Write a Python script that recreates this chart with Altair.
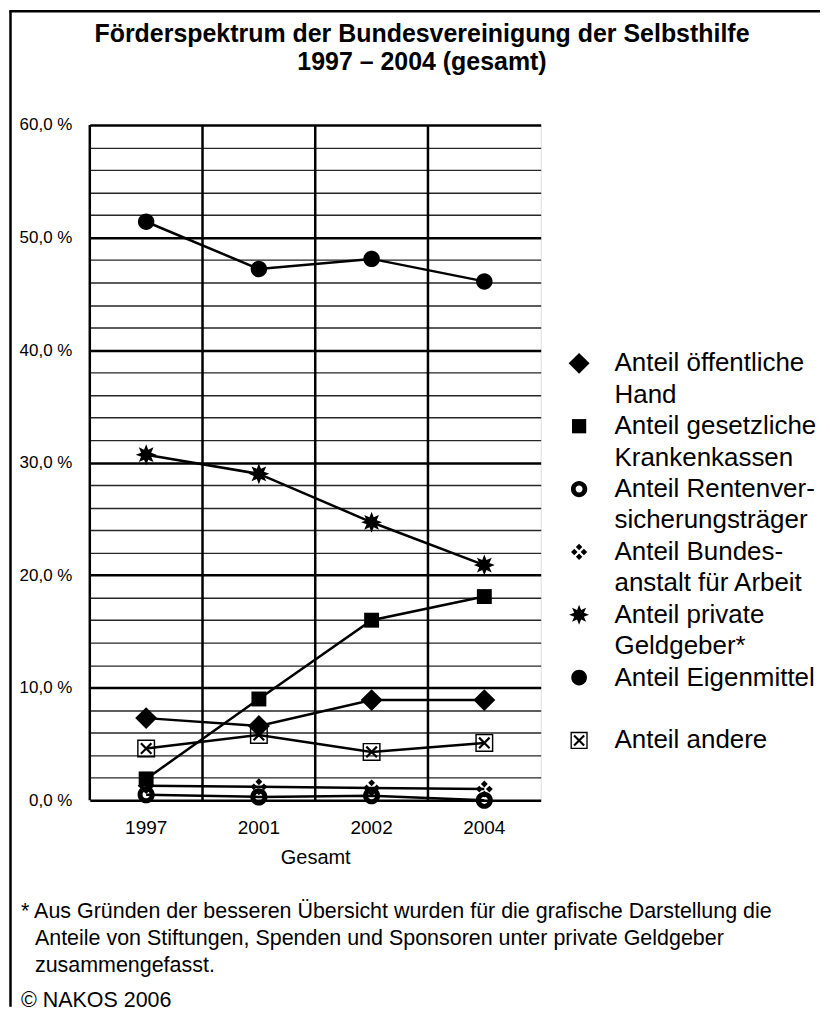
import math
import altair as alt
import pandas as pd

# ---------------- data ----------------
years = ["1997", "2001", "2002", "2004"]

series_names = [
    "Anteil öffentliche|Hand",
    "Anteil gesetzliche|Krankenkassen",
    "Anteil Rentenver-|sicherungsträger",
    "Anteil Bundes-|anstalt für Arbeit",
    "Anteil private|Geldgeber*",
    "Anteil Eigenmittel|",
    "Anteil andere",
]

oeffentliche_hand = [7.3, 6.6, 8.9, 8.9]
krankenkassen = [1.9, 9.0, 16.0, 18.1]
rentenversicherung = [0.5, 0.3, 0.4, 0.0]
bundesanstalt = [1.3, 1.2, 1.1, 1.0]
private_geldgeber = [30.7, 29.0, 24.7, 20.9]
eigenmittel = [51.4, 47.2, 48.1, 46.1]
andere = [4.6, 5.8, 4.3, 5.1]

series_values = [oeffentliche_hand, krankenkassen, rentenversicherung,
                 bundesanstalt, private_geldgeber, eigenmittel, andere]

title_lines = ["Förderspektrum der Bundesvereinigung der Selbsthilfe",
               "1997 – 2004 (gesamt)"]
footnote_first = "* Aus Gründen der besseren Übersicht wurden für die grafische Darstellung die"
footnote_rest = ["Anteile von Stiftungen, Spenden und Sponsoren unter private Geldgeber",
                 "zusammengefasst."]
copyright_text = "© NAKOS 2006"

rows = []
for name, vals in zip(series_names, series_values):
    for yr, v in zip(years, vals):
        rows.append({"Reihe": name, "Jahr": yr, "Anteil": v})
df = pd.DataFrame(rows)
df_years = pd.DataFrame({"Jahr": years})

# ---------------- marker shapes (unit coords) ----------------
def poly(pts, sign=1):
    area = sum(x1 * y2 - x2 * y1 for (x1, y1), (x2, y2) in zip(pts, pts[1:] + pts[:1]))
    if (area > 0) != (sign > 0):
        pts = pts[::-1]
    return "M" + "L".join(f"{x:.3f},{y:.3f}" for x, y in pts) + "Z"

def sq(s, sign=1, cx=0.0, cy=0.0):
    return poly([(cx - s, cy - s), (cx + s, cy - s), (cx + s, cy + s), (cx - s, cy + s)], sign)

def dia(r, cx=0.0, cy=0.0):
    return poly([(cx, cy - r), (cx + r, cy), (cx, cy + r), (cx - r, cy)], 1)

def circ(r, sweep=1):
    return (f"M{r},0A{r},{r} 0 1,{sweep} {-r},0A{r},{r} 0 1,{sweep} {r},0Z")

shape_diamond = dia(1.0)
shape_square = sq(0.68)
shape_ring = circ(0.78, 1) + circ(0.33, 0)
shape_cluster = "".join(dia(0.31, cx, cy) for cx, cy in [(0, -0.46), (0.46, 0), (0, 0.46), (-0.46, 0)])
star_pts = []
for k in range(16):
    r = 0.95 if k % 2 == 0 else 0.5
    t = k * math.pi / 8
    star_pts.append((r * math.sin(t), -r * math.cos(t)))
shape_star = poly(star_pts)
shape_circle = circ(0.75, 1)
d, a = 0.48, 0.07
xa = [(-d + a, -d - a), (d + a, d - a), (d - a, d + a), (-d - a, -d + a)]
xb = [(-d + a, d + a), (d + a, -d + a), (d - a, -d - a), (-d - a, d - a)]
shape_boxx = sq(0.82, 1) + sq(0.69, -1) + poly(xa, 1) + poly(xb, 1)

shapes = [shape_diamond, shape_square, shape_ring, shape_cluster,
          shape_star, shape_circle, shape_boxx]

FONT = "Liberation Sans"
W, H = 452, 677

x_scale = alt.Scale(domain=years, paddingInner=0, paddingOuter=0)
x_axis = alt.Axis(title="Gesamt", labelAngle=0, ticks=False, domain=False, grid=False,
                  labelFontSize=19, labelPadding=18, labelColor="black",
                  titleFontSize=20, titleFontWeight="normal", titleColor="black",
                  titlePadding=10, labelFont=FONT, titleFont=FONT)
y_axis = alt.Axis(title=None, values=list(range(0, 61, 2)), ticks=False, domain=False,
                  grid=True,
                  gridColor={"condition": {"test": "datum.value % 10 === 0", "value": "#000000"},
                             "value": "#262626"},
                  gridWidth={"condition": {"test": "datum.value % 10 === 0", "value": 2.5},
                             "value": 1.4},
                  gridOpacity=1,
                  labelExpr="datum.value % 10 === 0 ? replace(format(datum.value, '.1f'), '.', ',') + ' %' : ''",
                  labelFontSize=17, labelPadding=18, labelColor="black", labelFont=FONT)

x_enc = alt.X("Jahr:N", sort=years, scale=x_scale, axis=x_axis)
y_enc = alt.Y("Anteil:Q", scale=alt.Scale(domain=[0, 60], nice=False), axis=y_axis)

vrules = alt.Chart(df_years).mark_rule(color="black", strokeWidth=2.5).encode(
    x=alt.X("Jahr:N", sort=years, scale=x_scale, axis=x_axis, bandPosition=0)
)

lines = alt.Chart(df).mark_line(color="black", strokeWidth=2.5).encode(
    x=x_enc, y=y_enc, detail="Reihe:N"
)

points = alt.Chart(df).mark_point(filled=True, opacity=1, strokeWidth=0, size=484).encode(
    x=x_enc, y=y_enc,
    color=alt.value("black"),
    shape=alt.Shape("Reihe:N",
                    scale=alt.Scale(domain=series_names, range=shapes),
                    legend=alt.Legend(orient="none", legendX=477.5, legendY=226, title=None,
                                      labelFontSize=26, labelFont=FONT, labelColor="black",
                                      labelExpr="split(datum.label, '|')",
                                      labelLimit=600, labelOffset=22.5, labelBaseline="middle",
                                      symbolSize=441, symbolFillColor="black",
                                      symbolStrokeWidth=0, rowPadding=5, padding=0)),
)

one = alt.Data(values=[{"k": 1}])
frame_left = alt.Chart(one).mark_rule(color="black", strokeWidth=2.5).encode(
    x=alt.value(-79.5), y=alt.value(-114), y2=alt.value(884))
frame_top = alt.Chart(one).mark_rule(color="black", strokeWidth=2.5).encode(
    x=alt.value(-80.75), x2=alt.value(732), y=alt.value(-114))

title_t = alt.Chart(one).mark_text(align="center", baseline="alphabetic", fontSize=25,
                                   fontWeight="bold", font=FONT, color="black",
                                   lineHeight=28).encode(
    x=alt.value(333), y=alt.value(-83), text=alt.value(title_lines))

foot1 = alt.Chart(one).mark_text(align="left", baseline="middle", fontSize=21.5, font=FONT,
                                 color="black").encode(
    x=alt.value(-69), y=alt.value(789), text=alt.value(footnote_first))
foot2 = alt.Chart(one).mark_text(align="left", baseline="middle", fontSize=21.5, font=FONT,
                                 color="black", lineHeight=27).encode(
    x=alt.value(-55), y=alt.value(816), text=alt.value(footnote_rest))
copy_t = alt.Chart(one).mark_text(align="left", baseline="middle", fontSize=21.5, font=FONT,
                                  color="black").encode(
    x=alt.value(-69), y=alt.value(878), text=alt.value(copyright_text))

chart = alt.layer(vrules, lines, points, frame_left, frame_top, title_t,
                  foot1, foot2, copy_t).properties(
    width=W, height=H, padding=0,
).configure_view(
    fill="#d9d9d9", stroke="black", strokeWidth=3
).configure(style={"guide-label": {"lineHeight": 31.5}})

chart.save("out.html", embed_options={"renderer": "svg", "actions": False})
